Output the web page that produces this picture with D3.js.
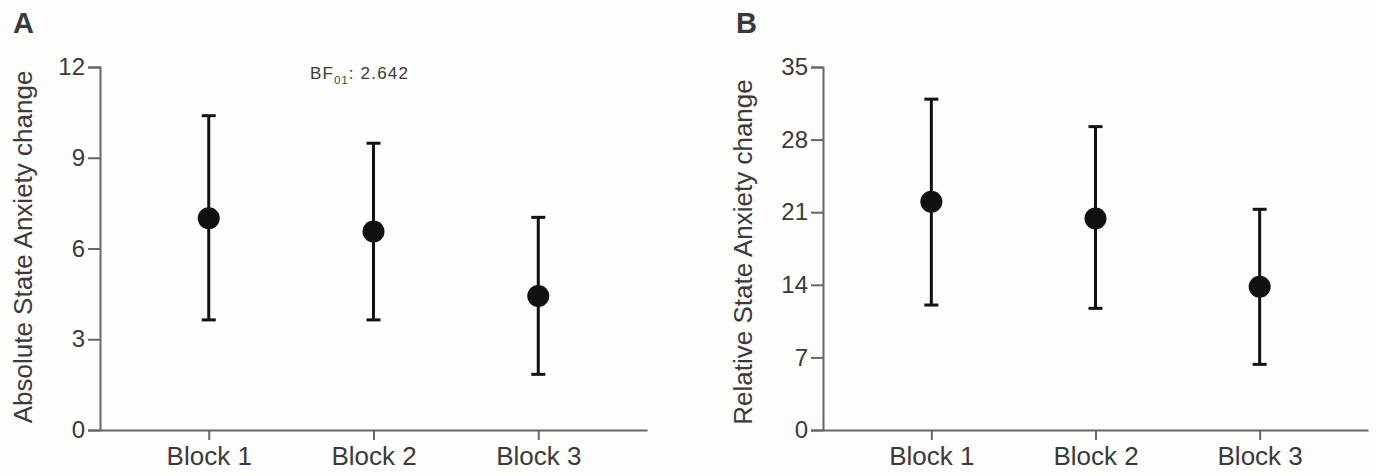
<!DOCTYPE html>
<html>
<head>
<meta charset="utf-8">
<script src="https://cdn.jsdelivr.net/npm/d3@7"></script>
<style>
  body { margin: 0; background: #fdfdfb; }
  svg { display: block; }
  text { font-family: "Liberation Sans", Arial, sans-serif; fill: #3a3a3a; }
</style>
</head>
<body>
<svg id="chart" width="1376" height="476"></svg>
<script>
const blocks = ['Block 1', 'Block 2', 'Block 3'];

// panel A: absolute change, mean with error bar ends
const absMean = [7.0, 6.56, 4.43];
const absLow = [3.64, 3.64, 1.84];
const absHigh = [10.39, 9.48, 7.03];
const absTicks = [0, 3, 6, 9, 12];

// panel B: relative change
const relMean = [22.0, 20.4, 13.82];
const relLow = [12.05, 11.73, 6.33];
const relHigh = [31.9, 29.25, 21.28];
const relTicks = [0, 7, 14, 21, 28, 35];

const svg = d3.select('#chart');

const drawPanel = (opt) => {
  const g = svg.append('g');

  const x = d3.scalePoint()
    .domain(blocks)
    .range([opt.left, opt.right])
    .padding(0.66);

  const y = d3.scaleLinear()
    .domain([0, d3.max(opt.ticks)])
    .range([430, 67]);

  const yAxis = g.append('g')
    .attr('transform', `translate(${opt.left},0)`)
    .call(d3.axisLeft(y).tickValues(opt.ticks).tickSize(12).tickPadding(3));

  const xAxis = g.append('g')
    .attr('transform', 'translate(0,430)')
    .call(d3.axisBottom(x).tickSize(10).tickPadding(7).tickSizeOuter(0));

  [yAxis, xAxis].forEach(a => {
    a.select('.domain').attr('stroke', '#666').attr('stroke-width', 2);
    a.selectAll('.tick line').attr('stroke', '#666').attr('stroke-width', 2);
    a.selectAll('.tick text')
      .attr('fill', '#3a3a3a')
      .style('font-size', '24px');
  });
  xAxis.selectAll('.tick text').style('font-size', '26px');

  // y-axis title
  g.append('text')
    .attr('transform', `translate(${opt.titleX},${opt.titleY}) rotate(-90)`)
    .attr('text-anchor', 'middle')
    .style('font-size', '26px')
    .text(opt.title);

  // panel letter
  g.append('text')
    .attr('x', opt.letterX)
    .attr('y', 33)
    .style('font-size', '29px')
    .style('font-weight', 'bold')
    .attr('fill', '#111')
    .text(opt.letter);

  const rows = blocks.map((b, i) => ({
    b, m: opt.mean[i], lo: opt.low[i], hi: opt.high[i]
  }));

  const bars = g.selectAll('.bar')
    .data(rows)
    .enter()
    .append('g')
    .attr('class', 'bar')
    .attr('stroke', '#111')
    .attr('stroke-width', 3);

  bars.append('line')
    .attr('x1', d => x(d.b)).attr('x2', d => x(d.b))
    .attr('y1', d => y(d.lo)).attr('y2', d => y(d.hi));
  bars.append('line')
    .attr('x1', d => x(d.b) - 7).attr('x2', d => x(d.b) + 7)
    .attr('y1', d => y(d.hi)).attr('y2', d => y(d.hi));
  bars.append('line')
    .attr('x1', d => x(d.b) - 7).attr('x2', d => x(d.b) + 7)
    .attr('y1', d => y(d.lo)).attr('y2', d => y(d.lo));

  g.selectAll('.dot')
    .data(rows)
    .enter()
    .append('circle')
    .attr('class', 'dot')
    .attr('cx', d => x(d.b))
    .attr('cy', d => y(d.m))
    .attr('r', 11)
    .attr('fill', '#111');

  return g;
};

const panelA = drawPanel({
  left: 100, right: 647, ticks: absTicks,
  mean: absMean, low: absLow, high: absHigh,
  title: 'Absolute State Anxiety change', titleX: 32, titleY: 247,
  letter: 'A', letterX: 13
});

drawPanel({
  left: 823, right: 1368, ticks: relTicks,
  mean: relMean, low: relLow, high: relHigh,
  title: 'Relative State Anxiety change', titleX: 752, titleY: 252,
  letter: 'B', letterX: 736
});

// Bayes factor note on panel A
const bf = panelA.append('text')
  .attr('x', 310)
  .attr('y', 79)
  .style('font-size', '17px')
  .style('letter-spacing', '1.2px');
bf.append('tspan').text('BF');
bf.append('tspan').attr('dy', 5).style('font-size', '11px').text('01');
bf.append('tspan').attr('dy', -5).text(': 2.642');
</script>
</body>
</html>
